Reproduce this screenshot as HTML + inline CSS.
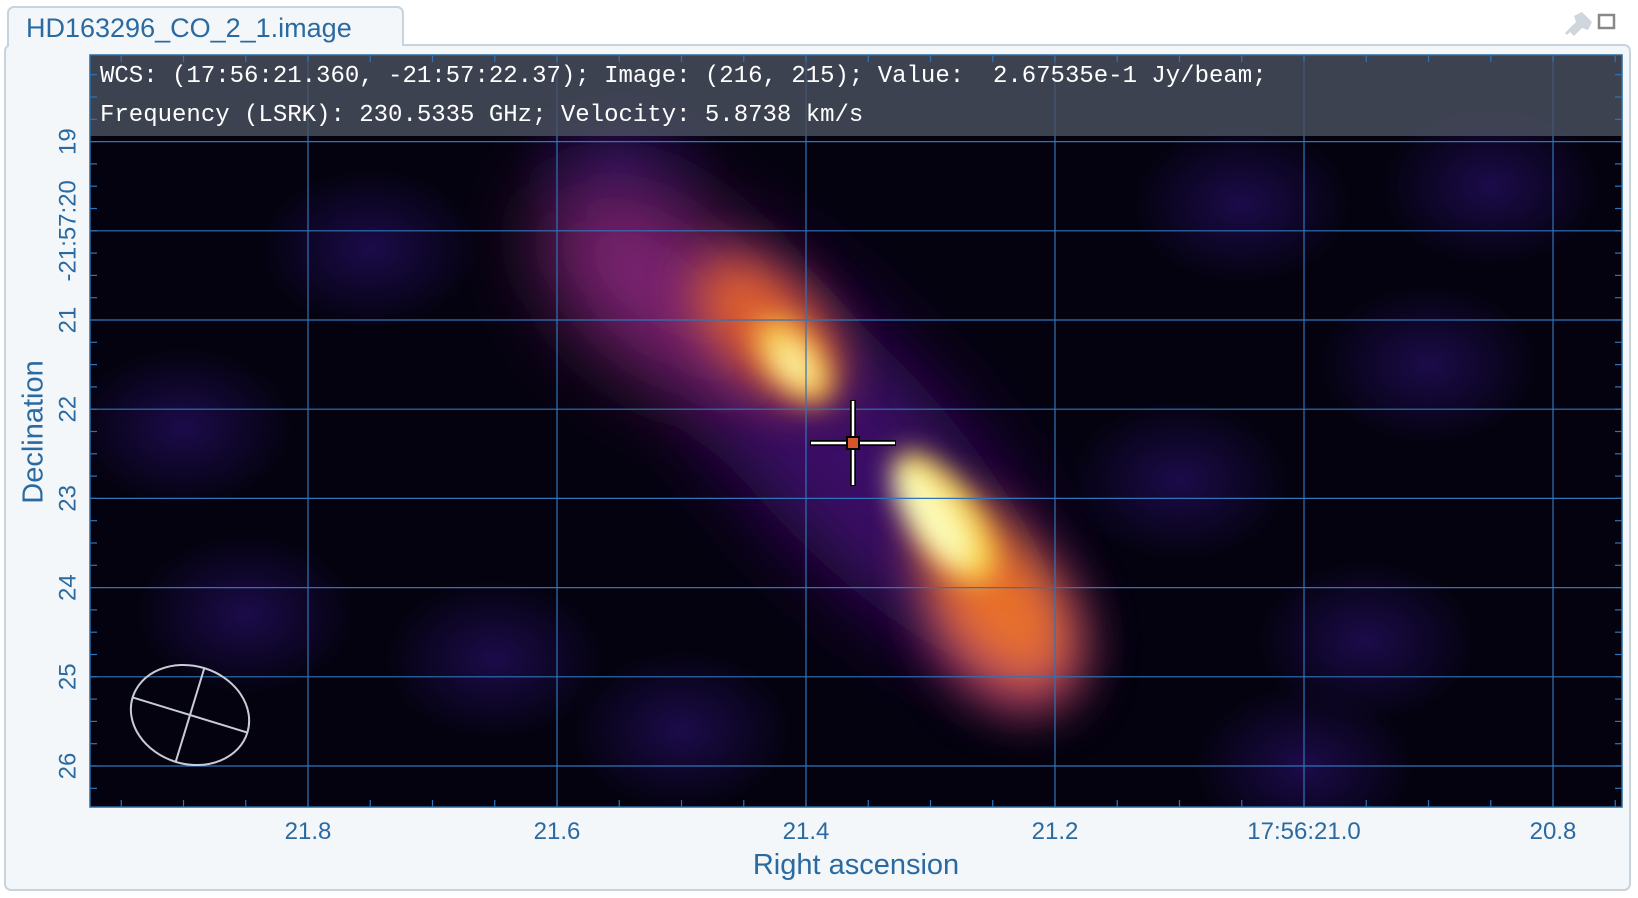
<!DOCTYPE html>
<html><head><meta charset="utf-8"><style>
html,body{margin:0;padding:0;background:#fff;width:1638px;height:898px;overflow:hidden;font-family:"Liberation Sans",sans-serif}
</style></head><body>
<svg id="root" width="1638" height="898" viewBox="0 0 1638 898" xmlns="http://www.w3.org/2000/svg">
<defs>
<filter id="b1" filterUnits="userSpaceOnUse" x="0" y="0" width="1638" height="898"><feGaussianBlur stdDeviation="40"/></filter>
<filter id="b2" filterUnits="userSpaceOnUse" x="0" y="0" width="1638" height="898"><feGaussianBlur stdDeviation="24"/></filter>
<filter id="b3" filterUnits="userSpaceOnUse" x="0" y="0" width="1638" height="898"><feGaussianBlur stdDeviation="13"/></filter>
<radialGradient id="ng"><stop offset="0" stop-color="#1e0c50" stop-opacity="0.9"/><stop offset="1" stop-color="#1e0c50" stop-opacity="0"/></radialGradient>
<clipPath id="clip"><rect x="90" y="55" width="1532" height="752"/></clipPath>
</defs>
<rect x="5" y="45" width="1625" height="845" rx="6" fill="#f3f7fa" stroke="#c9d3dc" stroke-width="2"/>
<path d="M8 45 V13 a6 6 0 0 1 6 -6 H397 a6 6 0 0 1 6 6 V45" fill="#f3f7fa" stroke="#c9d3dc" stroke-width="2"/>
<rect x="9" y="44" width="393" height="3" fill="#f3f7fa"/>
<text x="26" y="37" font-size="27" fill="#2b6aa0">HD163296_CO_2_1.image</text>
<g fill="#cfd6de"><path d="M1568 30 l8 -8 l-2 -6 l8 -4 l10 10 l-4 8 l-6 -2 l-8 8 z"/><path d="M1566 34 l8 -8" stroke="#cfd6de" stroke-width="3"/></g>
<rect x="1599" y="15" width="15" height="13" fill="none" stroke="#888" stroke-width="2.5"/>
<g clip-path="url(#clip)">
<rect x="90" y="55" width="1532" height="752" fill="#04020f"/>
<g id="noise"></g>
<g id="emis"></g>
</g>
<g id="grid"></g>
<rect x="90" y="55" width="1532" height="81" fill="#4a5060" fill-opacity="0.82"/>
<g font-family="'Liberation Mono',monospace" font-size="24" fill="#fff">
<text x="100" y="82" xml:space="preserve">WCS: (17:56:21.360, -21:57:22.37); Image: (216, 215); Value:  2.67535e-1 Jy/beam;</text>
<text x="100" y="121" xml:space="preserve">Frequency (LSRK): 230.5335 GHz; Velocity: 5.8738 km/s</text>
</g>
<g id="ticks"></g>
<rect x="90" y="55" width="1532" height="752" fill="none" stroke="#2b6aa0" stroke-width="1.5"/>
<g transform="translate(190 715) rotate(17)" stroke="#c8ccd4" stroke-width="2" fill="none">
<ellipse rx="60" ry="49"/><line x1="-60" y1="0" x2="60" y2="0"/><line x1="0" y1="-49" x2="0" y2="49"/></g>
<g>
<path d="M810 443 H896 M853 400 V486" stroke="#000" stroke-width="6"/>
<path d="M811 443 H895 M853 401 V485" stroke="#fff" stroke-width="2.5"/>
<rect x="847" y="437" width="12" height="12" fill="#d4572a" stroke="#000" stroke-width="2"/>
</g>
<text x="35" y="432" font-size="29" fill="#2b6aa0" text-anchor="middle" transform="rotate(-90 35 432)" dominant-baseline="middle">Declination</text>
<text x="856" y="874" font-size="29" fill="#2b6aa0" text-anchor="middle">Right ascension</text>
</svg>
<script>
const NS='http://www.w3.org/2000/svg';
const raTicks=[21.8,21.6,21.4,21.2,21.0,20.8];
const raLabels=['21.8','21.6','21.4','21.2','17:56:21.0','20.8'];
const decTicks=[19,20,21,22,23,24,25,26];
const decLabels=['19','-21:57:20','21','22','23','24','25','26'];
// emission blobs: ra, dec, semi-major/minor (arcsec), angle, colour, blur layer
const blobRa=[21.37,21.52,21.24,21.43,21.25,21.41,21.29,21.41,21.30];
const blobDec=[22.4,20.6,24.4,21.1,24.0,21.45,23.2,21.5,23.2];
const blobA=[3.4,1.5,1.1,1.0,1.15,0.55,0.85,0.28,0.65];
const blobB=[1.1,0.9,0.8,0.55,0.6,0.3,0.38,0.14,0.24];
const blobAng=[47,40,55,45,55,50,55,50,55];
const blobCol=['#3a0e66','#7a2470','#a83a5e','#e0602f','#e8702a','#f6c64a','#f8d84e','#fbf3a6','#fcfdb8'];
const blobLayer=[1,1,2,2,2,3,3,3,3];
const noiseRa=[21.9,21.65,21.05,20.9,21.75,21.5,20.95,21.1,21.85,21.55,21.0,20.85];
const noiseDec=[22.2,24.8,19.7,21.5,20.2,25.6,24.6,22.8,24.3,19.3,26.0,19.5];
function xs(ra){return 308+(21.8-ra)/0.2*249;}
function ys(d){return 141.6+(d-19)*89.2;}
const grid=document.getElementById('grid'),ticks=document.getElementById('ticks'),root=document.getElementById('root');
function mk(tag,attrs,parent){const e=document.createElementNS(NS,tag);for(const k in attrs)e.setAttribute(k,attrs[k]);parent.appendChild(e);return e;}
raTicks.forEach((r,i)=>{const x=xs(r);
 const l=mk('line',{x1:x,y1:55,x2:x,y2:807,stroke:'#2f74b8','stroke-width':1.2},grid);
 
 
 const t=mk('text',{x:x,y:839,'font-size':24,fill:'#2b6aa0','text-anchor':'middle'},root);t.textContent=raLabels[i];
 
 
});
for(let k=-8;k<30;k++){const x=308+(k*249/4);if(x<=90||x>=1622)continue;
 mk('line',{x1:x,y1:807,x2:x,y2:800,stroke:'#2f74b8','stroke-width':1.2},ticks);
 mk('line',{x1:x,y1:55,x2:x,y2:62,stroke:'#2f74b8','stroke-width':1.2},ticks);}
for(let k=-4;k<40;k++){const y=141.6+k*89.2/4;if(y<=55||y>=807)continue;
 mk('line',{x1:90,y1:y,x2:97,y2:y,stroke:'#2f74b8','stroke-width':1.2},ticks);
 mk('line',{x1:1622,y1:y,x2:1615,y2:y,stroke:'#2f74b8','stroke-width':1.2},ticks);}
decTicks.forEach((d,i)=>{const y=ys(d);
 const l=mk('line',{x1:90,y1:y,x2:1622,y2:y,stroke:'#2f74b8','stroke-width':1.2},grid);
 
 
 const t=mk('text',{x:68,y:y,'font-size':24,fill:'#2b6aa0','text-anchor':'middle','dominant-baseline':'central',transform:`rotate(-90 68 ${y})`},root);t.textContent=decLabels[i];
 
 
});
const noise=document.getElementById('noise');
noiseRa.forEach((r,i)=>{const e=mk('ellipse',{cx:xs(r),cy:ys(noiseDec[i]),rx:110,ry:80,fill:'url(#ng)'},noise);
 
 });
const emis=document.getElementById('emis');
const layers={1:mk('g',{filter:'url(#b1)'},emis),2:mk('g',{filter:'url(#b2)'},emis),3:mk('g',{filter:'url(#b3)'},emis)};
blobRa.forEach((r,i)=>{const cx=xs(r),cy=ys(blobDec[i]);
 const e=mk('ellipse',{cx:cx,cy:cy,rx:blobA[i]*89.2,ry:blobB[i]*89.2,fill:blobCol[i],transform:`rotate(${blobAng[i]} ${cx} ${cy})`},layers[blobLayer[i]]);
 
 });
</script>
</body></html>
